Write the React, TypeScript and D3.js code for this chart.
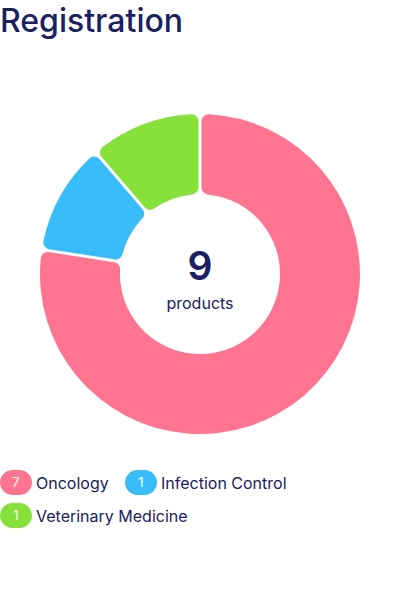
import React from "react";
import * as d3 from "d3";

const categories = ["Oncology", "Infection Control", "Veterinary Medicine"];
const values = [7, 1, 1];
const colors = ["#FF7591", "#38BDF8", "#86E13B"];
const totalLabel = "products";

const W = 400;
const H = 594;
const NAVY = "#1B2160";
const FONT = "Inter, 'Noto Sans', sans-serif";

export default function App() {
  const cx = 200;
  const cy = 274;
  const outer = 160;
  const inner = 80;
  const data = categories.map((c, i) => ({ c, v: values[i], color: colors[i] }));
  const pie = d3.pie<any>().value((d) => d.v).sort(null).padAngle(0.016);
  const arcs = pie(data);
  const arc = d3.arc<any>().innerRadius(inner).outerRadius(outer).cornerRadius(7);
  const total = d3.sum(values);

  const legendPos = [
    { x: 0, y: 470 },
    { x: 125, y: 470 },
    { x: 0, y: 503 },
  ];

  return (
    <svg width={W} height={H} style={{ position: "absolute", left: 0, top: 0 }}>
      <text x={0} y={32} fontFamily={FONT} fontSize={32} fontWeight={500} fill={NAVY}>
        Registration
      </text>
      <g transform={`translate(${cx},${cy})`}>
        {arcs.map((a, i) => (
          <path key={i} d={arc(a) as string} fill={a.data.color} />
        ))}
        <text y={6} textAnchor="middle" fontFamily={FONT} fontSize={39} fontWeight={600} fill={NAVY}>
          {total}
        </text>
        <text y={35} textAnchor="middle" fontFamily={FONT} fontSize={16} fill={NAVY}>
          {totalLabel}
        </text>
      </g>
      {data.map((d, i) => {
        const p = legendPos[i];
        return (
          <g key={i} transform={`translate(${p.x},${p.y})`}>
            <rect x={0} y={0} width={32} height={25} rx={12.5} fill={d.color} />
            <text x={16} y={17} textAnchor="middle" fontFamily={FONT} fontSize={13} fill="#fff">
              {d.v}
            </text>
            <text x={36} y={18.5} fontFamily={FONT} fontSize={16} fill={NAVY}>
              {d.c}
            </text>
          </g>
        );
      })}
    </svg>
  );
}
